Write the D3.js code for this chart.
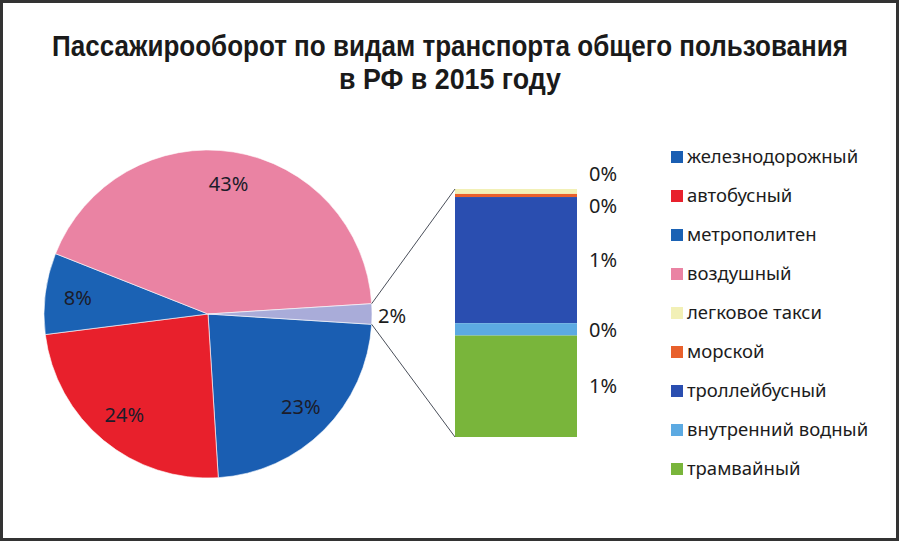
<!DOCTYPE html>
<html>
<head>
<meta charset="utf-8">
<script src="https://cdn.jsdelivr.net/npm/d3@7"></script>
<style>
  body { margin: 0; background: #fff; }
  text { font-family: "Noto Sans", "Open Sans", sans-serif; }
</style>
</head>
<body>
<script>
// main pie: shares in percent, clockwise from 3 o'clock
var pieNames = ["железнодорожный", "автобусный", "метрополитен", "воздушный"];
var pieValues = [23, 24, 8, 43];
var pieColors = ["#1a5eb2", "#e8202c", "#1b62b4", "#ea83a3"];
var otherColor = "#a9acd9";

// "other" bar breakdown, top to bottom
var barNames = ["легковое такси", "морской", "троллейбусный", "внутренний водный", "трамвайный"];
var barValues = [0.04, 0.025, 1.02, 0.1, 0.82];
var barColors = ["#f2f0b6", "#e8602c", "#2a4eb0", "#5caae2", "#79b53b"];

// legend order
var legendNames = ["железнодорожный", "автобусный", "метрополитен", "воздушный",
  "легковое такси", "морской", "троллейбусный", "внутренний водный", "трамвайный"];
var legendColors = ["#1a5eb2", "#e8202c", "#1b62b4", "#ea83a3",
  "#f2f0b6", "#e8602c", "#2a4eb0", "#5caae2", "#79b53b"];

var W = 900, H = 542;
var svg = d3.select("body").append("svg")
    .attr("width", W)
    .attr("height", H);

// frame
svg.append("rect")
    .attr("x", 1.5).attr("y", 1.5)
    .attr("width", W - 4).attr("height", H - 4)
    .attr("fill", "#fff")
    .attr("stroke", "#333")
    .attr("stroke-width", 3);

// title: bold, squeezed horizontally to look condensed
var titleLines = [
  {text: "Пассажирооборот по видам транспорта общего пользования", y: 56, len: 796},
  {text: "в РФ в 2015 году", y: 89, len: 222}
];
titleLines.forEach(function(t) {
    var tg = svg.append("g");
    var tx = tg.append("text")
        .attr("x", 0).attr("y", 0)
        .attr("text-anchor", "middle")
        .style("font-family", "'Liberation Sans', Arial, sans-serif")
        .style("font-weight", "bold")
        .style("font-size", "29px")
        .attr("fill", "#1a1a1a")
        .text(t.text);
    var k = t.len / tx.node().getComputedTextLength();
    tg.attr("transform", "translate(450," + t.y + ") scale(" + k + ",1)");
});

// pie
var cx = 208, cy = 314, R = 164;
var otherTotal = d3.sum(barValues);
var slices = pieValues.map(function(v, i) {
    return {name: pieNames[i], value: v, color: pieColors[i]};
});
slices.push({name: "other", value: otherTotal, color: otherColor});

var total = d3.sum(slices, function(d) { return d.value; });
var half = Math.PI * otherTotal / total;
var pie = d3.pie()
    .sort(null)
    .value(function(d) { return d.value; })
    .startAngle(Math.PI / 2 + half)
    .endAngle(Math.PI / 2 + half + 2 * Math.PI);

var arc = d3.arc().innerRadius(0).outerRadius(R);
var labelArc = d3.arc().innerRadius(R * 0.8).outerRadius(R * 0.8);
var fmt = d3.format(".0f");

var g = svg.append("g").attr("transform", "translate(" + cx + "," + cy + ")");
var arcs = pie(slices);

g.selectAll("path")
    .data(arcs)
    .enter().append("path")
    .attr("d", arc)
    .attr("fill", function(d) { return d.data.color; })
    .attr("stroke", "#fff")
    .attr("stroke-width", 0.6);

g.selectAll("text.pl")
    .data(arcs.filter(function(d) { return d.data.name != "other"; }))
    .enter().append("text")
    .attr("class", "pl")
    .attr("transform", function(d) { return "translate(" + labelArc.centroid(d) + ")"; })
    .attr("text-anchor", "middle")
    .attr("dy", "0.35em")
    .style("font-size", "20px")
    .attr("fill", "#1c1c2a")
    .text(function(d) { return fmt(d.data.value / total * 100) + "%"; });

g.append("text")
    .attr("x", R + 6).attr("y", 2)
    .attr("dy", "0.35em")
    .style("font-size", "20px")
    .attr("fill", "#1c1c1c")
    .text(fmt(otherTotal / total * 100) + "%");

// bar of "other"
var barX = 455, barW = 122, barTop = 189, barBottom = 437;
var y = d3.scaleLinear().domain([0, otherTotal]).range([barTop, barBottom]);
var stackData = [];
var acc = 0;
barValues.forEach(function(v, i) {
    stackData.push({name: barNames[i], value: v, color: barColors[i], y0: acc, y1: acc + v});
    acc += v;
});

svg.selectAll("rect.seg")
    .data(stackData)
    .enter().append("rect")
    .attr("class", "seg")
    .attr("x", barX)
    .attr("width", barW)
    .attr("y", function(d) { return y(d.y0); })
    .attr("height", function(d) { return y(d.y1) - y(d.y0); })
    .attr("fill", function(d) { return d.color; });

// connector lines from pie edge to bar
var aTop = arcs[4].startAngle, aBot = arcs[4].endAngle;
[[aTop, barTop], [aBot, barBottom]].forEach(function(p) {
    svg.append("line")
        .attr("x1", cx + R * Math.sin(p[0]))
        .attr("y1", cy - R * Math.cos(p[0]))
        .attr("x2", barX)
        .attr("y2", p[1])
        .attr("stroke", "#4a4f5a")
        .attr("stroke-width", 1);
});

// bar labels, nudged apart where segments are thin
var labelY = stackData.map(function(d) { return (y(d.y0) + y(d.y1)) / 2; });
labelY[0] = labelY[0] - 17;
labelY[1] = labelY[1] + 11;
labelY[3] = labelY[3] + 1;
svg.selectAll("text.bl")
    .data(stackData)
    .enter().append("text")
    .attr("class", "bl")
    .attr("x", barX + barW + 12)
    .attr("y", function(d, i) { return labelY[i]; })
    .attr("dy", "0.35em")
    .style("font-size", "20px")
    .attr("fill", "#1c1c1c")
    .text(function(d) { return fmt(d.value / total * 100) + "%"; });

// legend
var legend = svg.append("g").attr("transform", "translate(671,157)");
var row = legend.selectAll("g")
    .data(legendNames)
    .enter().append("g")
    .attr("transform", function(d, i) { return "translate(0," + (i * 39) + ")"; });
row.append("rect")
    .attr("x", 0).attr("y", -6)
    .attr("width", 12).attr("height", 12)
    .attr("fill", function(d, i) { return legendColors[i]; });
row.append("text")
    .attr("x", 16).attr("y", 0)
    .attr("dy", "0.35em")
    .style("font-size", "18.5px")
    .attr("fill", "#1c1c1c")
    .text(function(d) { return d; });
</script>
</body>
</html>
